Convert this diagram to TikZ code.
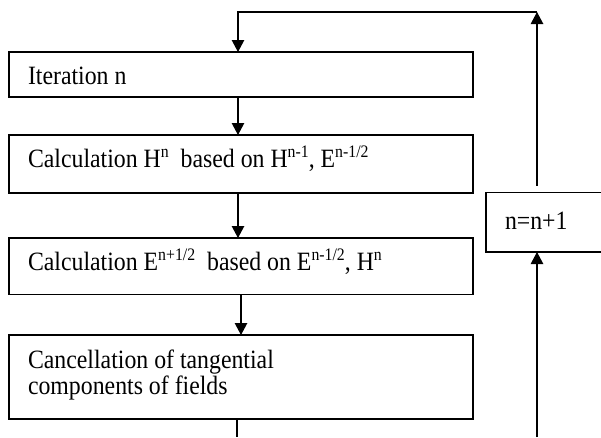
\documentclass[tikz,border=0pt]{standalone}
\usepackage{fontspec}
\usepackage{graphicx}
\setmainfont{Liberation Serif}
\usetikzlibrary{arrows.meta,calc}

% superscript in the style of a word processor: two-thirds size, raised
\newcommand\sups[1]{\raisebox{8.5pt}{\fontsize{15.8pt}{16pt}\selectfont #1}}
% the lettering is set slightly tall
\newcommand\tallt[1]{\scalebox{1}[1.11]{#1}}

\begin{document}
\begin{tikzpicture}[x=1pt,y=-1pt,
  every node/.style={inner sep=0pt, outer sep=0pt},
  flowbox/.style={draw, line width=1.1pt, anchor=north west, minimum width=464pt},
  boxtext/.style={anchor=base west, font=\fontsize{23.8pt}{24.3pt}\selectfont},
  flow/.style={line width=1.1pt},
  arr/.style={flow, -{Triangle[width=12.5pt,length=12pt]}}]
\clip (0,0) rectangle (601,437);

% main column of steps
\node[flowbox, minimum height=45pt] (iter) at (9,52) {};
\node[boxtext] (iterT) at ($(iter.north west)+(19,32)$) {\tallt{Iteration n}};

\node[flowbox, minimum height=58pt] (calcH) at (9,135) {};
\node[boxtext] (calcHT) at ($(calcH.north west)+(19,32)$)
  {\tallt{Calculation H\sups{n}\ \ based on H\sups{n-1}, E\sups{n-1/2}}};

\node[flowbox, minimum height=56.5pt] (calcE) at (9,238) {};
\node[boxtext] (calcET) at ($(calcE.north west)+(19,32)$)
  {\tallt{Calculation E\sups{n+1/2}\ \ based on E\sups{n-1/2}, H\sups{n}}};

\node[flowbox, minimum height=84pt] (cancel) at (9,335) {};
\node[boxtext] (cancelT) at ($(cancel.north west)+(19,33)$)
  {\tallt{\vtop{\hbox{Cancellation of tangential}\hbox{components of fields}}}};

% counter update on the return path
\node[draw, line width=1.1pt, anchor=north west, minimum width=140pt,
      minimum height=59.5pt] (incr) at (486,192.5) {};
\node[boxtext] (incrT) at ($(incr.north west)+(19,36.5)$) {\tallt{n=n+1}};

% connector guide coordinates
\coordinate (spine) at (238,0);
\coordinate (spineB) at (241,0);
\coordinate (bottomL) at (237,437);
\coordinate (bottomR) at (537,437);
\coordinate (topR) at (537,12);
\coordinate (topL) at (238,12);

\draw[arr] (iter.south -| spine) -- (calcH.north -| spine);
\draw[arr] (calcH.south -| spine) -- (calcE.north -| spine);
\draw[arr] (calcE.south -| spineB) -- (cancel.north -| spineB);
\draw[flow] (cancel.south -| bottomL) -- (bottomL);

\draw[arr] (bottomR) -- (incr.south -| bottomR);
\draw[arr] ($(incr.north -| topR)+(0,-7)$) -- (topR);
\draw[arr] (topR) -- (topL) -- (iter.north -| topL);
\end{tikzpicture}
\end{document}
